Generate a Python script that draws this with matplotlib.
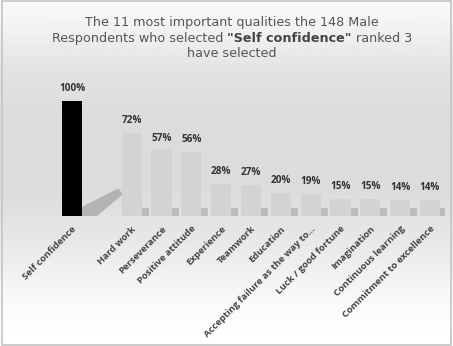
import matplotlib.pyplot as plt
import numpy as np
from matplotlib.patches import Polygon, Rectangle

categories = [
    "Self confidence", "Hard work", "Perseverance", "Positive attitude",
    "Experience", "Teamwork", "Education", "Accepting failure as the way to...",
    "Luck / good fortune", "Imagination", "Continuous learning",
    "Commitment to excellence",
]
values = [100, 72, 57, 56, 28, 27, 20, 19, 15, 15, 14, 14]
positions = [0, 2, 3, 4, 5, 6, 7, 8, 9, 10, 11, 12]
bar_colors = ["#000000"] + ["#d3d3d3"] * 11

W, H = 453, 346
fig = plt.figure(figsize=(W / 100, H / 100), dpi=100)

# background gradient (light top, grey middle, white bottom)
bg = fig.add_axes([0, 0, 1, 1], zorder=-10)
yy = np.linspace(0, 1, 300)
shade = np.interp(yy, [0.0, 0.12, 0.3, 0.45, 0.65, 0.8, 0.92, 1.0],
                  [1.0, 0.98, 0.91, 0.86, 0.86, 0.89, 0.95, 0.98])
bg.imshow(np.repeat(shade[:, None], 2, axis=1), cmap="gray", vmin=0, vmax=1,
          aspect="auto", extent=[0, 1, 0, 1], origin="lower")
bg.add_patch(Rectangle((0.004, 0.004), 0.992, 0.992, fill=False,
                       edgecolor="#c4c4c4", lw=1.2, transform=bg.transAxes))
bg.set_xlim(0, 1)
bg.set_ylim(0, 1)
bg.axis("off")

title_color = "#555555"
fig.text(0.512, 0.935, "The 11 most important qualities the 148 Male",
         ha="center", va="center", fontsize=9.2, color=title_color)
fig.text(0.512, 0.845, "have selected", ha="center", va="center",
         fontsize=9.2, color=title_color)

# middle title line built from three pieces, measured so they sit side by side
pieces = [("Respondents who selected ", "normal", title_color),
          ('"Self confidence"', "bold", "#444444"),
          (" ranked 3", "normal", title_color)]
renderer = fig.canvas.get_renderer()
texts = [fig.text(0, 0.889, s, ha="left", va="center", fontsize=9.2,
                  fontweight=w, color=c) for s, w, c in pieces]
widths = [t.get_window_extent(renderer).width / W for t in texts]
x0 = 0.512 - sum(widths) / 2
for t, w in zip(texts, widths):
    t.set_x(x0)
    x0 += w

left_px, right_px, bottom_px, top_px = 30, 445, 216, 80
ax = fig.add_axes([left_px / W, 1 - bottom_px / H, (right_px - left_px) / W,
                   (bottom_px - top_px) / H])
ax.set_facecolor("none")
unit = (430 - 72) / 12
ax.set_xlim(-(72 - left_px) / unit, 12 + (right_px - 430) / unit)
ax.set_ylim(0, 100 * (bottom_px - top_px) / (bottom_px - 101))

width = 0.68
# soft shadows behind bars
for x, v, c in zip(positions, values, bar_colors):
    if c == "#000000":
        ax.add_patch(Polygon([(x + width / 2, 0), (x + width / 2, 8),
                              (x + 1.55, 24), (x + 1.7, 19), (x + width / 2 + 0.5, 0)],
                             closed=True, facecolor="#a5a5a5", edgecolor="none",
                             alpha=0.75, zorder=1))
    else:
        ax.add_patch(Rectangle((x + width / 2 - 0.05, 0), 0.28, min(v, 12) * 0.55,
                               facecolor="#b3b3b3", edgecolor="none",
                               alpha=0.8, zorder=1))

ax.bar(positions, values, width=width, color=bar_colors, edgecolor="none",
       zorder=2)
for x, v in zip(positions, values):
    ax.text(x, v + 6, f"{v}%", ha="center", va="bottom", fontsize=7.2,
            fontweight="bold", color="#333333", family="Open Sans")

ax.set_xticks(positions)
ax.set_xticklabels(categories, rotation=45, ha="right", rotation_mode="anchor",
                   fontsize=6.8, color="#444444", fontweight="bold",
                   family="Open Sans")
ax.tick_params(axis="x", length=0, pad=6)
ax.set_yticks([])
for s in ax.spines.values():
    s.set_visible(False)

fig.savefig("out.png", dpi=100)
